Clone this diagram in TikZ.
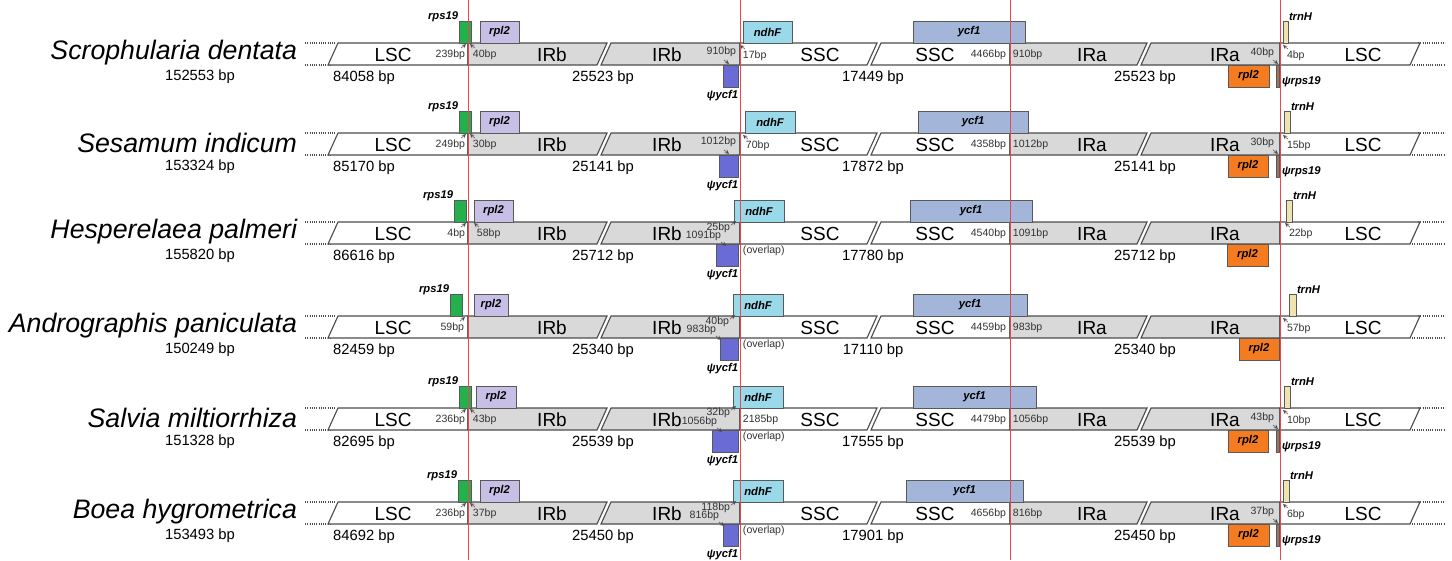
\documentclass[tikz,border=0pt]{standalone}
\usepackage{fontspec}
\setmainfont{Liberation Sans}
\usetikzlibrary{calc}

\definecolor{bandline}{HTML}{4D4D4D}
\definecolor{irfill}{HTML}{D9D9D9}
\definecolor{junc}{HTML}{E8474F}
\definecolor{rpsgreen}{HTML}{22B14C}
\definecolor{rpllav}{HTML}{C8BFE7}
\definecolor{ndhcyan}{HTML}{99D9EA}
\definecolor{ycfblue}{HTML}{A3B6D9}
\definecolor{psiblue}{HTML}{6B6BD6}
\definecolor{trnyel}{HTML}{EFE4B0}
\definecolor{rplorange}{HTML}{F47B20}
\definecolor{psibrown}{HTML}{A66F5B}

\begin{document}
\begin{tikzpicture}[x=0.025cm,y=-0.025cm,line join=miter,>=stealth,
  every node/.style={inner sep=0.5pt},
  seg/.style={draw=bandline,line width=0.8pt},
  stub/.style={draw=bandline,line width=0.8pt,dash pattern=on 0.8pt off 0.8pt},
  gene/.style={draw=black!65,line width=0.6pt},
  gtext/.style={font=\fontsize{8}{9}\selectfont\bfseries\itshape},
  region/.style={font=\fontsize{13.5}{15}\selectfont},
  spname/.style={font=\fontsize{19}{21}\selectfont\itshape,anchor=east},
  bp/.style={font=\fontsize{10.5}{12}\selectfont},
  ann/.style={font=\fontsize{7.5}{8}\selectfont,text=black!80},
  tip/.style={->,line width=0.35pt,draw=black!70},
  jline/.style={draw=junc,line width=0.7pt}]
  \useasboundingbox (0,0) rectangle (1452,560);
  \newcommand\arrNE[3]{\draw[tip] ($(#1.north east)+(#2,#3)$) -- ++(5,-4);}
  \newcommand\arrNW[3]{\draw[tip] ($(#1.north west)+(#2,#3)$) -- ++(-5,-4);}
  \newcommand\arrSE[3]{\draw[tip] ($(#1.south east)+(#2,#3)$) -- ++(5,4);}

  % bands, names and lengths
  \foreach \i/\yt/\sp/\tot/\lsc/\ir/\ssc/\ssr/\irr in {
    1/43/Scrophularia dentata/152553/84058/25523/17449/4466/910,
    2/133/Sesamum indicum/153324/85170/25141/17872/4358/1012,
    3/222/Hesperelaea palmeri/155820/86616/25712/17780/4540/1091,
    4/316/Andrographis paniculata/150249/82459/25340/17110/4459/983,
    5/408/Salvia miltiorrhiza/151328/82695/25539/17555/4479/1056,
    6/502/Boea hygrometrica/153493/84692/25450/17901/4656/816}{
    \draw[stub] (305,\yt) -- (336,\yt) (305,\yt+22) -- (330,\yt+22);
    \draw[stub] (1418,\yt) -- (1445,\yt) (1412,\yt+22) -- (1445,\yt+22);
    \draw[seg,fill=white] (338,\yt) -- (468,\yt) -- (468,\yt+22) -- (328,\yt+22) -- cycle;
    \draw[seg,fill=irfill] (468,\yt) -- (607,\yt) -- (597,\yt+22) -- (468,\yt+22) -- cycle;
    \draw[seg,fill=irfill] (611,\yt) -- (740,\yt) -- (740,\yt+22) -- (601,\yt+22) -- cycle;
    \draw[seg,fill=white] (740,\yt) -- (877,\yt) -- (867,\yt+22) -- (740,\yt+22) -- cycle;
    \draw[seg,fill=white] (881,\yt) -- (1010,\yt) -- (1010,\yt+22) -- (871,\yt+22) -- cycle;
    \draw[seg,fill=irfill] (1010,\yt) -- (1147,\yt) -- (1137,\yt+22) -- (1010,\yt+22) -- cycle;
    \draw[seg,fill=irfill] (1151,\yt) -- (1280,\yt) -- (1280,\yt+22) -- (1141,\yt+22) -- cycle;
    \draw[seg,fill=white] (1280,\yt) -- (1420,\yt) -- (1410,\yt+22) -- (1280,\yt+22) -- cycle;
    \node[region] (lscL\i) at (393,\yt+12) {LSC};
    \node[region] (irbA\i) at (552,\yt+12) {IRb};
    \node[region] (irbB\i) at (667,\yt+12) {IRb};
    \node[region] (sscA\i) at (820,\yt+12) {SSC};
    \node[region] (sscB\i) at (935,\yt+12) {SSC};
    \node[region] (iraA\i) at (1092,\yt+12) {IRa};
    \node[region] (iraB\i) at (1225,\yt+12) {IRa};
    \node[region] (lscR\i) at (1363,\yt+12) {LSC};
    \node[spname] (sp\i) at (298,\yt+10) {\sp};
    \node[bp] (tot\i) at (200,\yt+34) {\tot\ bp};
    \node[bp] (lscbp\i) at (364,\yt+35) {\lsc\ bp};
    \node[bp] (irbbp\i) at (603,\yt+35) {\ir\ bp};
    \node[bp] (sscbp\i) at (873,\yt+35) {\ssc\ bp};
    \node[bp] (irabp\i) at (1145,\yt+35) {\ir\ bp};
    \node[ann,anchor=east] (jsl\i) at (1007,\yt+12) {\ssr bp};
    \node[ann,anchor=west] (jsr\i) at (1012,\yt+12) {\irr bp};
  }

  % genes
  \foreach \i/\yt/\rsa/\rsb/\rla/\rlb/\nda/\ndb/\yca/\ycb/\tra/\trb/\psa/\ora/\orb in {
    1/43/459/471/480/519/743/792/913/1025/1283/1288/723/1228/1269,
    2/133/459/471/480/519/745/795/918/1028/1284/1290/719/1228/1268,
    3/222/454/466/474/513/734/784/910/1032/1286/1292/716/1227/1268,
    4/316/450/462/474/508/733/783/913/1027/1289/1296/720/1239/1279,
    5/408/459/471/476/516/733/783/913/1036/1284/1290/712/1228/1268,
    6/502/458/471/480/519/733/783/906/1023/1283/1289/723/1228/1269}{
    \draw[gene,fill=rpsgreen] (\rsa,\yt-22) rectangle (\rsb,\yt);
    \node[gtext,anchor=east] (rps\i) at (\rsa,\yt-26) {rps19};
    \draw[gene,fill=rpllav] (\rla,\yt-22) rectangle (\rlb,\yt);
    \node[gtext] (rplA\i) at ({(\rla+\rlb)/2},\yt-11) {rpl2};
    \draw[gene,fill=ndhcyan] (\nda,\yt-22) rectangle (\ndb,\yt);
    \node[gtext] (ndh\i) at ({(\nda+\ndb)/2},\yt-11) {ndhF};
    \draw[gene,fill=ycfblue] (\yca,\yt-22) rectangle (\ycb,\yt);
    \node[gtext] (ycf\i) at ({(\yca+\ycb)/2},\yt-11) {ycf1};
    \draw[gene,fill=trnyel] (\tra,\yt-22) rectangle (\trb,\yt);
    \node[gtext,anchor=west] (trn\i) at (\trb,\yt-26) {trnH};
    \draw[gene,fill=psiblue] (\psa,\yt+22) rectangle (738,\yt+44);
    \node[gtext,anchor=north east] (psy\i) at (739,\yt+46) {ψycf1};
    \draw[gene,fill=rplorange] (\ora,\yt+22) rectangle (\orb,\yt+44);
    \node[gtext] (rplB\i) at ({(\ora+\orb)/2},\yt+33) {rpl2};
  }
  \foreach \i/\yt in {1/43,2/133,5/408,6/502}{
    \draw[gene,fill=psibrown] (1276,\yt+22) rectangle (1279,\yt+44);
    \node[gtext,anchor=west] (psr\i) at (1281,\yt+39) {ψrps19};
  }

  % junction distances
  \def\yt{43}
  \node[ann,anchor=east] (a1) at (466,\yt+12) {239bp}; \arrNE{a1}{-5}{-1}
  \node[ann,anchor=west] (b1) at (472,\yt+12) {40bp}; \arrNW{b1}{3}{-1}
  \node[ann,anchor=east] (c1) at (737,\yt+9) {910bp}; \arrSE{c1}{-13}{2}
  \node[ann,anchor=west] (d1) at (742,\yt+13) {17bp}; \arrNW{d1}{3}{-1}
  \node[ann,anchor=east] (e1) at (1275,\yt+10) {40bp}; \arrSE{e1}{-2}{1}
  \node[ann,anchor=west] (f1) at (1286,\yt+13) {4bp}; \arrNW{f1}{2}{-1}

  \def\yt{133}
  \node[ann,anchor=east] (a2) at (466,\yt+12) {249bp}; \arrNE{a2}{-5}{-1}
  \node[ann,anchor=west] (b2) at (472,\yt+12) {30bp}; \arrNW{b2}{3}{-1}
  \node[ann,anchor=east] (c2) at (737,\yt+9) {1012bp}; \arrSE{c2}{-13}{2}
  \node[ann,anchor=west] (d2) at (745,\yt+13) {70bp}; \arrNW{d2}{3}{-1}
  \node[ann,anchor=east] (e2) at (1275,\yt+10) {30bp}; \arrSE{e2}{-2}{1}
  \node[ann,anchor=west] (f2) at (1286,\yt+13) {15bp}; \arrNW{f2}{2}{-1}

  \def\yt{222}
  \node[ann,anchor=east] (a3) at (466,\yt+12) {4bp}; \arrNE{a3}{-5}{-1}
  \node[ann,anchor=west] (b3) at (476,\yt+12) {58bp}; \arrNW{b3}{3}{-1}
  \node[ann,anchor=east] (c3) at (731,\yt+6) {25bp}; \arrNE{c3}{0}{3}
  \node[ann,anchor=east] (g3) at (722,\yt+14) {1091bp}; \arrSE{g3}{-1}{0}
  \node[ann,anchor=west] (o3) at (742,\yt+29) {(overlap)};
  \node[ann,anchor=west] (f3) at (1288,\yt+12) {22bp}; \arrNW{f3}{2}{-1}

  \def\yt{316}
  \node[ann,anchor=east] (a4) at (465,\yt+12) {59bp}; \arrNE{a4}{-5}{-1}
  \node[ann,anchor=east] (c4) at (730,\yt+6) {40bp}; \arrNE{c4}{0}{3}
  \node[ann,anchor=east] (g4) at (717,\yt+14) {983bp}; \arrSE{g4}{-1}{0}
  \node[ann,anchor=west] (o4) at (742,\yt+29) {(overlap)};
  \node[ann,anchor=west] (f4) at (1286,\yt+13) {57bp}; \arrNW{f4}{2}{-1}

  \def\yt{408}
  \node[ann,anchor=east] (a5) at (466,\yt+12) {236bp}; \arrNE{a5}{-5}{-1}
  \node[ann,anchor=west] (b5) at (472,\yt+12) {43bp}; \arrNW{b5}{3}{-1}
  \node[ann,anchor=east] (c5) at (731,\yt+5) {32bp}; \arrNE{c5}{0}{3}
  \node[ann,anchor=east] (g5) at (718,\yt+14) {1056bp}; \arrSE{g5}{-1}{0}
  \node[ann,anchor=west] (h5) at (742,\yt+12) {2185bp};
  \node[ann,anchor=west] (o5) at (742,\yt+29) {(overlap)};
  \node[ann,anchor=east] (e5) at (1275,\yt+10) {43bp}; \arrSE{e5}{-2}{1}
  \node[ann,anchor=west] (f5) at (1286,\yt+13) {10bp}; \arrNW{f5}{2}{-1}

  \def\yt{502}
  \node[ann,anchor=east] (a6) at (466,\yt+12) {236bp}; \arrNE{a6}{-5}{-1}
  \node[ann,anchor=west] (b6) at (472,\yt+12) {37bp}; \arrNW{b6}{3}{-1}
  \node[ann,anchor=east] (c6) at (731,\yt+6) {118bp}; \arrNE{c6}{0}{3}
  \node[ann,anchor=east] (g6) at (720,\yt+14) {816bp}; \arrSE{g6}{-1}{0}
  \node[ann,anchor=west] (o6) at (742,\yt+29) {(overlap)};
  \node[ann,anchor=east] (e6) at (1275,\yt+10) {37bp}; \arrSE{e6}{-2}{1}
  \node[ann,anchor=west] (f6) at (1286,\yt+13) {6bp}; \arrNW{f6}{2}{-1}

  % junction lines
  \foreach \xj in {468,740,1010,1280}
    \draw[jline] (\xj,0) -- (\xj,560);
\end{tikzpicture}
\end{document}
